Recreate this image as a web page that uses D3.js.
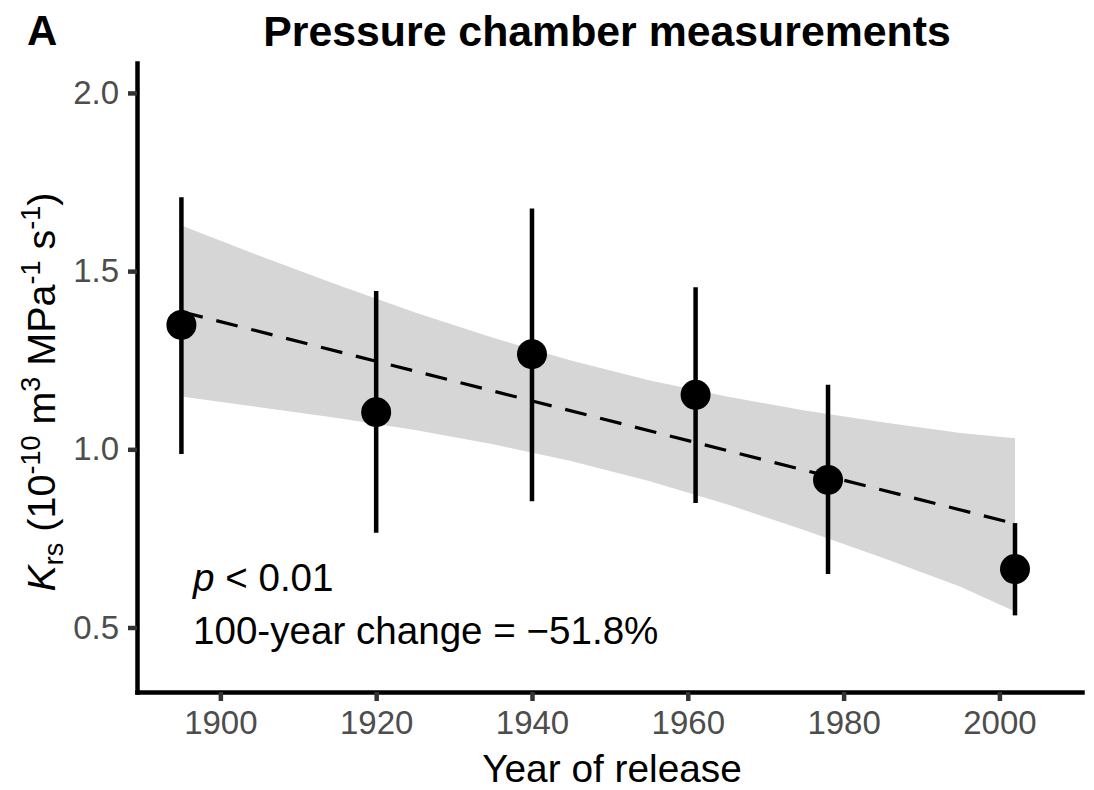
<!DOCTYPE html>
<html>
<head>
<meta charset="utf-8">
<script src="https://cdn.jsdelivr.net/npm/d3@7"></script>
<style>
  html, body { margin: 0; padding: 0; background: #ffffff; }
  svg { display: block; }
  text { font-family: "Liberation Sans", Arial, Helvetica, sans-serif; }
</style>
</head>
<body>
<svg id="chart" width="1094" height="790"></svg>
<script>
// ---- data ----
const years    = [1895, 1920, 1940, 1961, 1978, 2002];
const means    = [1.349, 1.104, 1.267, 1.153, 0.914, 0.664];
const errLow   = [0.987, 0.766, 0.854, 0.849, 0.650, 0.534];
const errHigh  = [1.707, 1.444, 1.676, 1.455, 1.181, 0.793];

const fitYears  = [1895, 2002];
const fitValues = [1.386, 0.791];

const bandYears = [1895, 1905, 1915, 1925, 1935, 1945, 1955, 1965, 1975, 1985, 1995, 2002];
const bandUpper = [1.628, 1.543, 1.462, 1.384, 1.313, 1.249, 1.194, 1.148, 1.109, 1.076, 1.046, 1.031];
const bandLower = [1.148, 1.118, 1.088, 1.054, 1.014, 0.967, 0.911, 0.846, 0.773, 0.696, 0.614, 0.545];

const xTicks = [1900, 1920, 1940, 1960, 1980, 2000];
const yTicks = [0.5, 1.0, 1.5, 2.0];

const titleText = "Pressure chamber measurements";
const panelLetter = "A";
const xTitle = "Year of release";
const pText = " < 0.01";
const changeText = "100-year change = \u221251.8%";

// ---- layout ----
const svg = d3.select("#chart");
const pLeft = 137, pRight = 1082, pTop = 63, pBottom = 692;

const x = d3.scaleLinear().domain([1889.3, 2010.6]).range([pLeft, pRight]);
const y = d3.scaleLinear().domain([0.319, 2.084]).range([pBottom, pTop]);

// ribbon
const band = bandYears.map((yr, i) => ({yr, lo: bandLower[i], hi: bandUpper[i]}));
svg.append("path")
  .datum(band)
  .attr("fill", "#d6d6d6")
  .attr("d", d3.area().x(d => x(d.yr)).y0(d => y(d.lo)).y1(d => y(d.hi)));

// fit line
const fit = fitYears.map((yr, i) => ({yr, v: fitValues[i]}));
svg.append("path")
  .datum(fit)
  .attr("fill", "none")
  .attr("stroke", "#000")
  .attr("stroke-width", 3.2)
  .attr("stroke-dasharray", "22,14")
  .attr("d", d3.line().x(d => x(d.yr)).y(d => y(d.v)));

const pts = years.map((yr, i) => ({yr, m: means[i], lo: errLow[i], hi: errHigh[i]}));

// error bars
svg.append("g").selectAll("line").data(pts).join("line")
  .attr("x1", d => x(d.yr)).attr("x2", d => x(d.yr))
  .attr("y1", d => y(d.lo)).attr("y2", d => y(d.hi))
  .attr("stroke", "#000").attr("stroke-width", 4.5);

// points
svg.append("g").selectAll("circle").data(pts).join("circle")
  .attr("cx", d => x(d.yr)).attr("cy", d => y(d.m))
  .attr("r", 15).attr("fill", "#000");

// axes
const xAxis = svg.append("g")
  .attr("transform", `translate(0,${pBottom})`)
  .call(d3.axisBottom(x).tickValues(xTicks).tickFormat(d3.format("d")).tickSize(9).tickSizeOuter(0).tickPadding(10));
const yAxis = svg.append("g")
  .attr("transform", `translate(${pLeft},0)`)
  .call(d3.axisLeft(y).tickValues(yTicks).tickFormat(d3.format(".1f")).tickSize(9).tickSizeOuter(0).tickPadding(9));

[xAxis, yAxis].forEach(g => {
  g.select(".domain").attr("stroke", "#000").attr("stroke-width", 4.5).attr("stroke-linecap", "square");
  g.selectAll(".tick line").attr("stroke", "#333").attr("stroke-width", 4.5);
  g.selectAll(".tick text")
    .attr("fill", "#4d4d4d")
    .style("font-size", "33px")
    .style("font-family", "'Liberation Sans', Arial, sans-serif");
});

// title & panel letter
svg.append("text")
  .attr("x", 607).attr("y", 46)
  .attr("text-anchor", "middle")
  .style("font-size", "42.8px").style("font-weight", "bold")
  .text(titleText);
svg.append("text")
  .attr("x", 27).attr("y", 45)
  .style("font-size", "42px").style("font-weight", "bold")
  .text(panelLetter);

// x axis title
svg.append("text")
  .attr("x", 612).attr("y", 782)
  .attr("text-anchor", "middle")
  .style("font-size", "38.8px")
  .text(xTitle);

// y axis title with sub/superscripts
const yl = svg.append("text")
  .attr("transform", "translate(55,392) rotate(-90)")
  .attr("text-anchor", "middle")
  .style("font-size", "39.5px");
yl.append("tspan").style("font-style", "italic").text("K");
yl.append("tspan").style("font-size", "27px").attr("dy", 8).text("rs");
yl.append("tspan").attr("dy", -8).text(" (10");
yl.append("tspan").style("font-size", "27px").attr("dy", -15).text("-10");
yl.append("tspan").attr("dy", 15).text(" m");
yl.append("tspan").style("font-size", "27px").attr("dy", -15).text("3");
yl.append("tspan").attr("dy", 15).text(" MPa");
yl.append("tspan").style("font-size", "27px").attr("dy", -15).text("-1");
yl.append("tspan").attr("dy", 15).text(" s");
yl.append("tspan").style("font-size", "27px").attr("dy", -15).text("-1");
yl.append("tspan").attr("dy", 15).text(")");

// annotation
const a1 = svg.append("text").attr("x", 193).attr("y", 591).style("font-size", "38.6px");
a1.append("tspan").style("font-style", "italic").text("p");
a1.append("tspan").text(pText);
svg.append("text").attr("x", 193).attr("y", 644).style("font-size", "38.6px").text(changeText);
</script>
</body>
</html>
